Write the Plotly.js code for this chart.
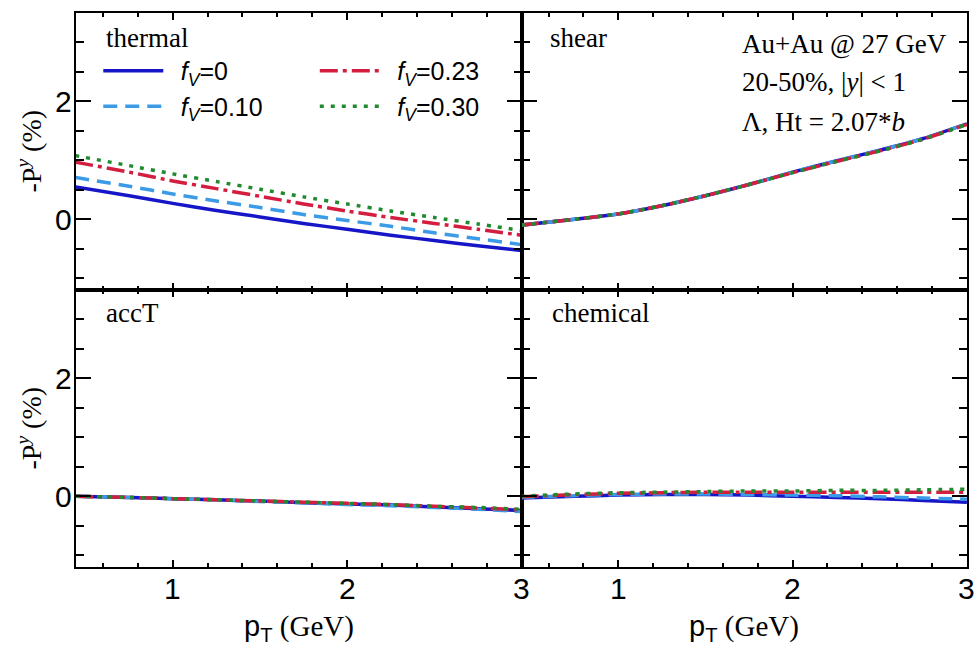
<!DOCTYPE html>
<html>
<head>
<meta charset="utf-8">
<script src="https://cdn.plot.ly/plotly-3.0.1.min.js"></script>
<style>html,body{margin:0;padding:0;background:#fff;}#chart{width:977px;height:650px;}</style>
</head>
<body>
<div id="chart"></div>
<script>
// ---- data ----
const pT = [0.44, 0.75, 1.0, 1.25, 1.5, 1.75, 2.0, 2.25, 2.5, 2.75, 3.0];
const seriesNames = ["\u2002<i>f</i><sub><i>V</i></sub>=0", "\u2002<i>f</i><sub><i>V</i></sub>=0.10", "\u2002<i>f</i><sub><i>V</i></sub>=0.23", "\u2002<i>f</i><sub><i>V</i></sub>=0.30"];
const panelNames = ["thermal", "shear", "accT", "chemical"];

const thermal_f0   = [0.55, 0.40, 0.27, 0.15, 0.04, -0.07, -0.17, -0.27, -0.36, -0.45, -0.53];
const thermal_f010 = [0.71, 0.56, 0.43, 0.31, 0.20, 0.08, -0.02, -0.12, -0.23, -0.33, -0.43];
const thermal_f023 = [0.97, 0.80, 0.65, 0.52, 0.39, 0.26, 0.14, 0.03, -0.07, -0.17, -0.27];
const thermal_f030 = [1.08, 0.91, 0.77, 0.64, 0.51, 0.38, 0.26, 0.14, 0.03, -0.08, -0.19];

const shear_f0   = [-0.10, 0.00, 0.09, 0.23, 0.40, 0.59, 0.80, 0.99, 1.17, 1.37, 1.62];
const shear_f010 = [-0.10, 0.00, 0.09, 0.23, 0.40, 0.59, 0.80, 0.99, 1.17, 1.37, 1.62];
const shear_f023 = [-0.10, 0.00, 0.09, 0.23, 0.40, 0.59, 0.79, 0.98, 1.16, 1.36, 1.61];
const shear_f030 = [-0.10, 0.00, 0.09, 0.23, 0.40, 0.59, 0.79, 0.98, 1.16, 1.36, 1.61];

const accT_f0   = [0.00, -0.02, -0.04, -0.06, -0.08, -0.11, -0.13, -0.15, -0.18, -0.21, -0.24];
const accT_f010 = [0.00, -0.02, -0.04, -0.06, -0.09, -0.11, -0.14, -0.16, -0.19, -0.22, -0.26];
const accT_f023 = [0.00, -0.02, -0.04, -0.06, -0.08, -0.10, -0.12, -0.14, -0.17, -0.20, -0.23];
const accT_f030 = [0.00, -0.02, -0.04, -0.06, -0.08, -0.10, -0.12, -0.14, -0.17, -0.19, -0.22];

const chem_f0   = [-0.03, 0.00, 0.02, 0.03, 0.03, 0.02, 0.00, -0.02, -0.04, -0.07, -0.10];
const chem_f010 = [-0.02, 0.01, 0.03, 0.04, 0.04, 0.03, 0.02, 0.01, -0.01, -0.03, -0.05];
const chem_f023 = [-0.01, 0.03, 0.05, 0.06, 0.07, 0.07, 0.07, 0.07, 0.07, 0.07, 0.07];
const chem_f030 = [0.00, 0.04, 0.06, 0.07, 0.08, 0.09, 0.09, 0.10, 0.10, 0.11, 0.12];

const xTickVals = [1, 2, 3];
const xTickText = ["1", "2", "3"];
const yTickVals = [0, 2];
const yTickText = ["0", "2"];
const xTitle = "<span style=\"font-family:Liberation Sans, Arial, sans-serif\">p<sub>T</sub></span> (GeV)";
const yTitle = "-P<sup><i>y</i></sup> (%)";

const xRange = [0.445, 3.0005];
const yRange = [-1.2, 3.5];

// ---- styles ----
const styles = [
  {color: "#1616c8", dash: "solid"},
  {color: "#3c9be6", dash: "14px,8px"},
  {color: "#d41e40", dash: "18px,5px,4px,5px"},
  {color: "#1f8a2e", dash: "4px,7px"}
];
const panels = [
  {data: [thermal_f0, thermal_f010, thermal_f023, thermal_f030], xa: "x", ya: "y"},
  {data: [shear_f0, shear_f010, shear_f023, shear_f030], xa: "x2", ya: "y2"},
  {data: [accT_f0, accT_f010, accT_f023, accT_f030], xa: "x3", ya: "y3"},
  {data: [chem_f0, chem_f010, chem_f023, chem_f030], xa: "x4", ya: "y4"}
];
const traces = [];
panels.forEach((p, pi) => {
  p.data.forEach((ys, si) => {
    traces.push({
      type: "scatter", mode: "lines", x: pT, y: ys,
      xaxis: p.xa, yaxis: p.ya,
      name: seriesNames[si],
      line: {color: styles[si].color, dash: styles[si].dash, width: 3.5, shape: "spline", smoothing: 0.6},
      showlegend: pi === 0,
      legend: si < 2 ? "legend" : "legend2",
      hoverinfo: "skip"
    });
  });
});

const serifFam = "Liberation Serif, Times New Roman, serif";
const tickFont = {family: "Liberation Sans, Arial, sans-serif", size: 30, color: "#000"};

// frame axes: lines and inside tick marks (labels drawn separately below)
function xFrame(domain, anchor) {
  return {
    domain: domain, anchor: anchor, range: xRange,
    tickmode: "linear", tick0: 0, dtick: 1, showticklabels: false,
    ticks: "inside", ticklen: 7, tickwidth: 2, tickcolor: "#000",
    minor: {dtick: 0.2, tick0: 0, ticks: "inside", ticklen: 4, tickwidth: 2, tickcolor: "#000"},
    showline: true, linecolor: "#000", linewidth: 2, mirror: "allticks",
    showgrid: false, zeroline: false
  };
}
function yFrame(domain, anchor) {
  return {
    domain: domain, anchor: anchor, range: yRange,
    tickmode: "linear", tick0: 0, dtick: 2, showticklabels: false,
    ticks: "inside", ticklen: 15, tickwidth: 2, tickcolor: "#000",
    minor: {dtick: 0.5, tick0: 0, ticks: "inside", ticklen: 8, tickwidth: 2, tickcolor: "#000"},
    showline: true, linecolor: "#000", linewidth: 2, mirror: "allticks",
    showgrid: false, zeroline: false
  };
}

const annotations = [];
// tick labels, placed through the axes at the tick values
["x3", "x4"].forEach((xa, k) => {
  const ya = k === 0 ? "y3" : "y4";
  xTickVals.forEach((v, i) => annotations.push({
    text: xTickText[i], xref: xa, x: v, yref: ya + " domain", y: 0,
    xanchor: "center", yanchor: "top", yshift: -3, showarrow: false, font: tickFont
  }));
  annotations.push({
    text: xTitle, xref: xa + " domain", x: 0.5, yref: ya + " domain", y: 0,
    xanchor: "center", yanchor: "middle", yshift: -61, showarrow: false,
    font: {family: serifFam, size: 29, color: "#000"}
  });
});
["y", "y3"].forEach((ya, k) => {
  const xa = k === 0 ? "x" : "x3";
  yTickVals.forEach((v, i) => annotations.push({
    text: yTickText[i], yref: ya, y: v, xref: xa + " domain", x: 0,
    xanchor: "right", yanchor: "middle", xshift: -2, showarrow: false, font: tickFont
  }));
  annotations.push({
    text: yTitle, xref: xa + " domain", x: 0, yref: ya + " domain", y: 0.5,
    xanchor: "center", yanchor: "middle", xshift: -46, textangle: -90, showarrow: false,
    font: {family: serifFam, size: 28, color: "#000"}
  });
});

const serif = {family: serifFam, size: 27, color: "#000"};
const panelLabelPos = [[0.031, 0.955], [0.530, 0.955], [0.031, 0.458], [0.532, 0.458]];
panelNames.forEach((t, i) => annotations.push({
  text: t, xref: "paper", yref: "paper", x: panelLabelPos[i][0], y: panelLabelPos[i][1],
  xanchor: "left", yanchor: "middle", showarrow: false, font: serif
}));
const infoLines = ["Au+Au @ 27 GeV", "20-50%, |<i>y</i>| < 1", "Λ, Ht = 2.07*<i>b</i>"];
const infoY = [0.944, 0.875, 0.803];
infoLines.forEach((t, i) => annotations.push({
  text: t, xref: "paper", yref: "paper", x: 0.745, y: infoY[i],
  xanchor: "left", yanchor: "middle", showarrow: false, font: serif
}));

const legendFont = {family: "Liberation Sans, Arial, sans-serif", size: 25, color: "#000"};
const layout = {
  width: 977, height: 650,
  margin: {l: 76, r: 10, t: 13, b: 83},
  paper_bgcolor: "#fff", plot_bgcolor: "rgba(0,0,0,0)",
  showlegend: true,
  legend: {x: 0.025, y: 0.937, xanchor: "left", yanchor: "top", orientation: "v",
           bgcolor: "rgba(0,0,0,0)", font: legendFont, itemwidth: 60, tracegroupgap: 0},
  legend2: {x: 0.268, y: 0.937, xanchor: "left", yanchor: "top", orientation: "v",
           bgcolor: "rgba(0,0,0,0)", font: legendFont, itemwidth: 60, tracegroupgap: 0},
  xaxis: xFrame([0, 0.5], "y"),
  yaxis: yFrame([0.5, 1], "x"),
  xaxis2: xFrame([0.5, 1], "y2"),
  yaxis2: yFrame([0.5, 1], "x2"),
  xaxis3: xFrame([0, 0.5], "y3"),
  yaxis3: yFrame([0, 0.5], "x3"),
  xaxis4: xFrame([0.5, 1], "y4"),
  yaxis4: yFrame([0, 0.5], "x4"),
  annotations: annotations
};
Plotly.newPlot("chart", traces, layout, {staticPlot: true, displayModeBar: false});
</script>
</body>
</html>
